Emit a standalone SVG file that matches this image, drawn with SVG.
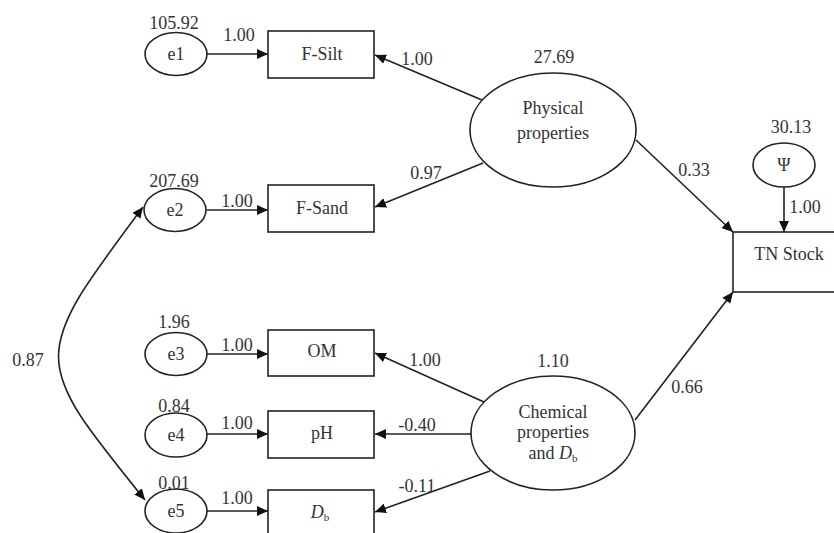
<svg xmlns="http://www.w3.org/2000/svg" width="834" height="533" viewBox="0 0 834 533">
  <style>
    .t { font-family: "Liberation Serif", "Times New Roman", serif; font-size: 18px; fill: #333; text-anchor: middle; }
    .n { fill: #fff; stroke: #222; stroke-width: 1.6; }
    .c { fill: none; stroke: #222; stroke-width: 1.6; }
  </style>
  <defs>
    <marker id="ah" markerUnits="userSpaceOnUse" markerWidth="12" markerHeight="10" refX="11" refY="5" orient="auto-start-reverse">
      <path d="M0,0 L11,5 L0,10 z" fill="#111"/>
    </marker>
  </defs>
  <rect width="834" height="533" fill="#fff"/>

  <g id="connectors">
    <line class="c" x1="207" y1="54" x2="268" y2="54" marker-end="url(#ah)"/>
    <line class="c" x1="207" y1="210" x2="268" y2="210" marker-end="url(#ah)"/>
    <line class="c" x1="207" y1="354" x2="268" y2="354" marker-end="url(#ah)"/>
    <line class="c" x1="207" y1="434" x2="268" y2="434" marker-end="url(#ah)"/>
    <line class="c" x1="207" y1="511" x2="268" y2="511" marker-end="url(#ah)"/>
    <line class="c" x1="482" y1="100" x2="375" y2="55" marker-end="url(#ah)"/>
    <line class="c" x1="483" y1="163" x2="375" y2="207" marker-end="url(#ah)"/>
    <line class="c" x1="636" y1="140" x2="733" y2="232" marker-end="url(#ah)"/>
    <line class="c" x1="784" y1="187" x2="784" y2="232" marker-end="url(#ah)"/>
    <line class="c" x1="635" y1="420" x2="733" y2="292" marker-end="url(#ah)"/>
    <line class="c" x1="484" y1="402" x2="375" y2="353" marker-end="url(#ah)"/>
    <line class="c" x1="472" y1="434" x2="375" y2="434" marker-end="url(#ah)"/>
    <line class="c" x1="490" y1="471" x2="375" y2="512" marker-end="url(#ah)"/>
    <path class="c" d="M143,207 C30,358 30,358 145,500" marker-start="url(#ah)" marker-end="url(#ah)"/>
    <text class="t" x="239" y="41">1.00</text>
    <text class="t" x="237" y="207">1.00</text>
    <text class="t" x="237" y="351">1.00</text>
    <text class="t" x="237" y="429">1.00</text>
    <text class="t" x="237" y="504">1.00</text>
    <text class="t" x="417" y="65">1.00</text>
    <text class="t" x="426" y="179">0.97</text>
    <text class="t" x="694" y="176">0.33</text>
    <text class="t" x="805" y="213">1.00</text>
    <text class="t" x="687" y="393">0.66</text>
    <text class="t" x="425" y="366">1.00</text>
    <text class="t" x="417" y="431">-0.40</text>
    <text class="t" x="417" y="492">-0.11</text>
    <text class="t" x="28" y="366">0.87</text>
  </g>

  <g id="e1">
    <ellipse class="n" cx="176" cy="54" rx="31" ry="21.5"/>
    <text class="t" x="176" y="60">e1</text>
    <text class="t" x="174" y="29">105.92</text>
  </g>
  <g id="e2">
    <ellipse class="n" cx="175" cy="210" rx="31" ry="21.5"/>
    <text class="t" x="175" y="216">e2</text>
    <text class="t" x="174" y="187">207.69</text>
  </g>
  <g id="e3">
    <ellipse class="n" cx="176" cy="354" rx="31" ry="21.5"/>
    <text class="t" x="176" y="360">e3</text>
    <text class="t" x="174" y="328">1.96</text>
  </g>
  <g id="e4">
    <ellipse class="n" cx="176" cy="435" rx="31" ry="22"/>
    <text class="t" x="176" y="441">e4</text>
    <text class="t" x="174" y="412">0.84</text>
  </g>
  <g id="e5">
    <ellipse class="n" cx="176" cy="511" rx="31" ry="22"/>
    <text class="t" x="176" y="517">e5</text>
    <text class="t" x="174" y="489">0.01</text>
  </g>

  <g id="F-Silt">
    <rect class="n" x="268" y="31" width="106" height="47"/>
    <text class="t" x="322" y="60">F-Silt</text>
  </g>
  <g id="F-Sand">
    <rect class="n" x="268" y="185" width="106" height="47"/>
    <text class="t" x="322" y="214">F-Sand</text>
  </g>
  <g id="OM">
    <rect class="n" x="268" y="330" width="106" height="46"/>
    <text class="t" x="322" y="357">OM</text>
  </g>
  <g id="pH">
    <rect class="n" x="268" y="411" width="106" height="47"/>
    <text class="t" x="322" y="439">pH</text>
  </g>
  <g id="Db">
    <rect class="n" x="268" y="490" width="106" height="47"/>
    <text class="t" x="320" y="518"><tspan font-style="italic">D</tspan><tspan font-size="11" dy="3">b</tspan></text>
  </g>

  <g id="physical">
    <ellipse class="n" cx="553" cy="130" rx="83" ry="57"/>
    <text class="t" x="553" y="114">Physical</text>
    <text class="t" x="553" y="139">properties</text>
    <text class="t" x="554" y="63">27.69</text>
  </g>
  <g id="chemical">
    <ellipse class="n" cx="553" cy="433" rx="82" ry="57"/>
    <text class="t" x="553" y="418">Chemical</text>
    <text class="t" x="553" y="438">properties</text>
    <text class="t" x="553" y="459">and <tspan font-style="italic">D</tspan><tspan font-size="11" dy="3">b</tspan></text>
    <text class="t" x="553" y="367">1.10</text>
  </g>
  <g id="psi">
    <ellipse class="n" cx="784" cy="165" rx="31" ry="22"/>
    <text class="t" x="784" y="171">Ψ</text>
    <text class="t" x="791" y="133">30.13</text>
  </g>
  <g id="TN-Stock">
    <rect class="n" x="733" y="232" width="115" height="60"/>
    <text class="t" x="789" y="260">TN Stock</text>
  </g>
</svg>
